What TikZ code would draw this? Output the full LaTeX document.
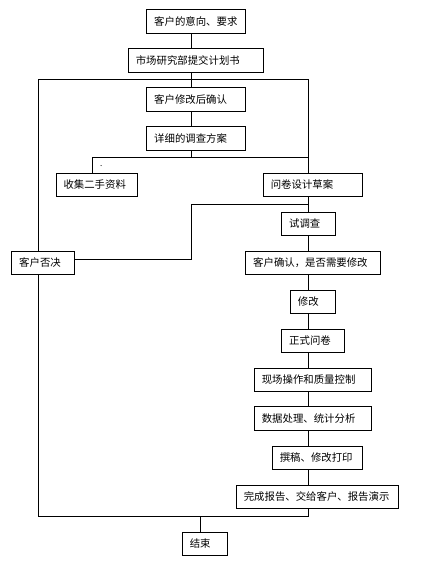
\documentclass[tikz,border=0pt]{standalone}
\usepackage{fontspec}
\setmainfont{Noto Sans CJK SC}
\begin{document}
\begin{tikzpicture}[x=1pt,y=-1pt, line width=0.9pt,
  bx/.style={draw, minimum height=23.5pt, inner xsep=7.5pt, inner ysep=0pt, align=left,
             font=\fontsize{10.4}{12}\selectfont},
  conn/.style={draw, line width=0.9pt}]
\useasboundingbox (0,0) rectangle (441,576);
% boxes
\node[bx, text width=84pt]    (b1)  at (196.2,21.2)  {客户的意向、要求};
\node[bx, text width=120pt]   (b2)  at (195.8,60.3)  {市场研究部提交计划书};
\node[bx, text width=84pt]    (b3)  at (196.2,99.2)  {客户修改后确认};
\node[bx, text width=84pt]    (b4)  at (196.2,138.2) {详细的调查方案};
\node[bx, text width=66.3pt]  (b5)  at (96.7,185)    {收集二手资料};
\node[bx, text width=84pt]    (b6)  at (312.8,185)   {问卷设计草案};
\node[bx, text width=38.3pt]  (b7)  at (308.3,224)   {试调查};
\node[bx, text width=47.6pt]  (b8)  at (43,263)      {客户否决};
\node[bx, text width=119.6pt] (b9)  at (313,263)     {客户确认，是否需要修改};
\node[bx, text width=29.7pt]  (b10) at (312.7,301.7) {修改};
\node[bx, text width=47.6pt]  (b11) at (313,340.7)   {正式问卷};
\node[bx, text width=102pt]   (b12) at (312.8,379.7) {现场操作和质量控制};
\node[bx, text width=102pt]   (b13) at (312.8,418.5) {数据处理、统计分析};
\node[bx, text width=75pt]    (b14) at (317.3,458)   {撰稿、修改打印};
\node[bx, text width=147pt]   (b15) at (317.3,496.8) {完成报告、交给客户、报告演示};
\node[bx, text width=30pt]    (b16) at (204.8,543.8) {结束};
\node[inner sep=0pt, font=\fontsize{8}{9}\selectfont, anchor=base] (dot) at (101.3,166) {.};
% junction coordinates
\coordinate (cx)  at (191.3,0);
\coordinate (tl)  at (38.3,79.3);
\coordinate (tr)  at (308.3,79.3);
\coordinate (bl)  at (38.3,516.7);
\coordinate (br)  at (308.3,516.7);
\coordinate (mj)  at (191.3,157.3);
\coordinate (ml)  at (92.3,157.3);
\coordinate (mr)  at (308.3,157.3);
\coordinate (lp1) at (308.3,204);
\coordinate (lp2) at (191.3,204);
\coordinate (lp3) at (191.3,259);
\coordinate (be)  at (200.3,516.7);
% connectors
\draw[conn] (b1.south -| cx) -- (b2.north -| cx);
\draw[conn] (b2.south -| cx) -- (b3.north -| cx);
\draw[conn] (b3.south -| cx) -- (b4.north -| cx);
\draw[conn] (b4.south -| cx) -- (mj);
\draw[conn] (tl) -- (tr);
\draw[conn] (ml) -- (mr);
\draw[conn] (ml) -- (b5.north -| ml);
\draw[conn] (tr) -- (b6.north -| tr);
\draw[conn] (b6.south -| tr) -- (b7.north -| tr);
\draw[conn] (lp1) -- (lp2) -- (lp3) -- (lp3 -| b8.east);
\draw[conn] (b7.south -| tr) -- (b9.north -| tr);
\draw[conn] (b9.south -| tr) -- (b10.north -| tr);
\draw[conn] (b10.south -| tr) -- (b11.north -| tr);
\draw[conn] (b11.south -| tr) -- (b12.north -| tr);
\draw[conn] (b12.south -| tr) -- (b13.north -| tr);
\draw[conn] (b13.south -| tr) -- (b14.north -| tr);
\draw[conn] (b14.south -| tr) -- (b15.north -| tr);
\draw[conn] (b15.south -| tr) -- (br);
\draw[conn] (tl) -- (b8.north -| tl);
\draw[conn] (b8.south -| tl) -- (bl) -- (br);
\draw[conn] (be) -- (b16.north -| be);
\end{tikzpicture}
\end{document}
